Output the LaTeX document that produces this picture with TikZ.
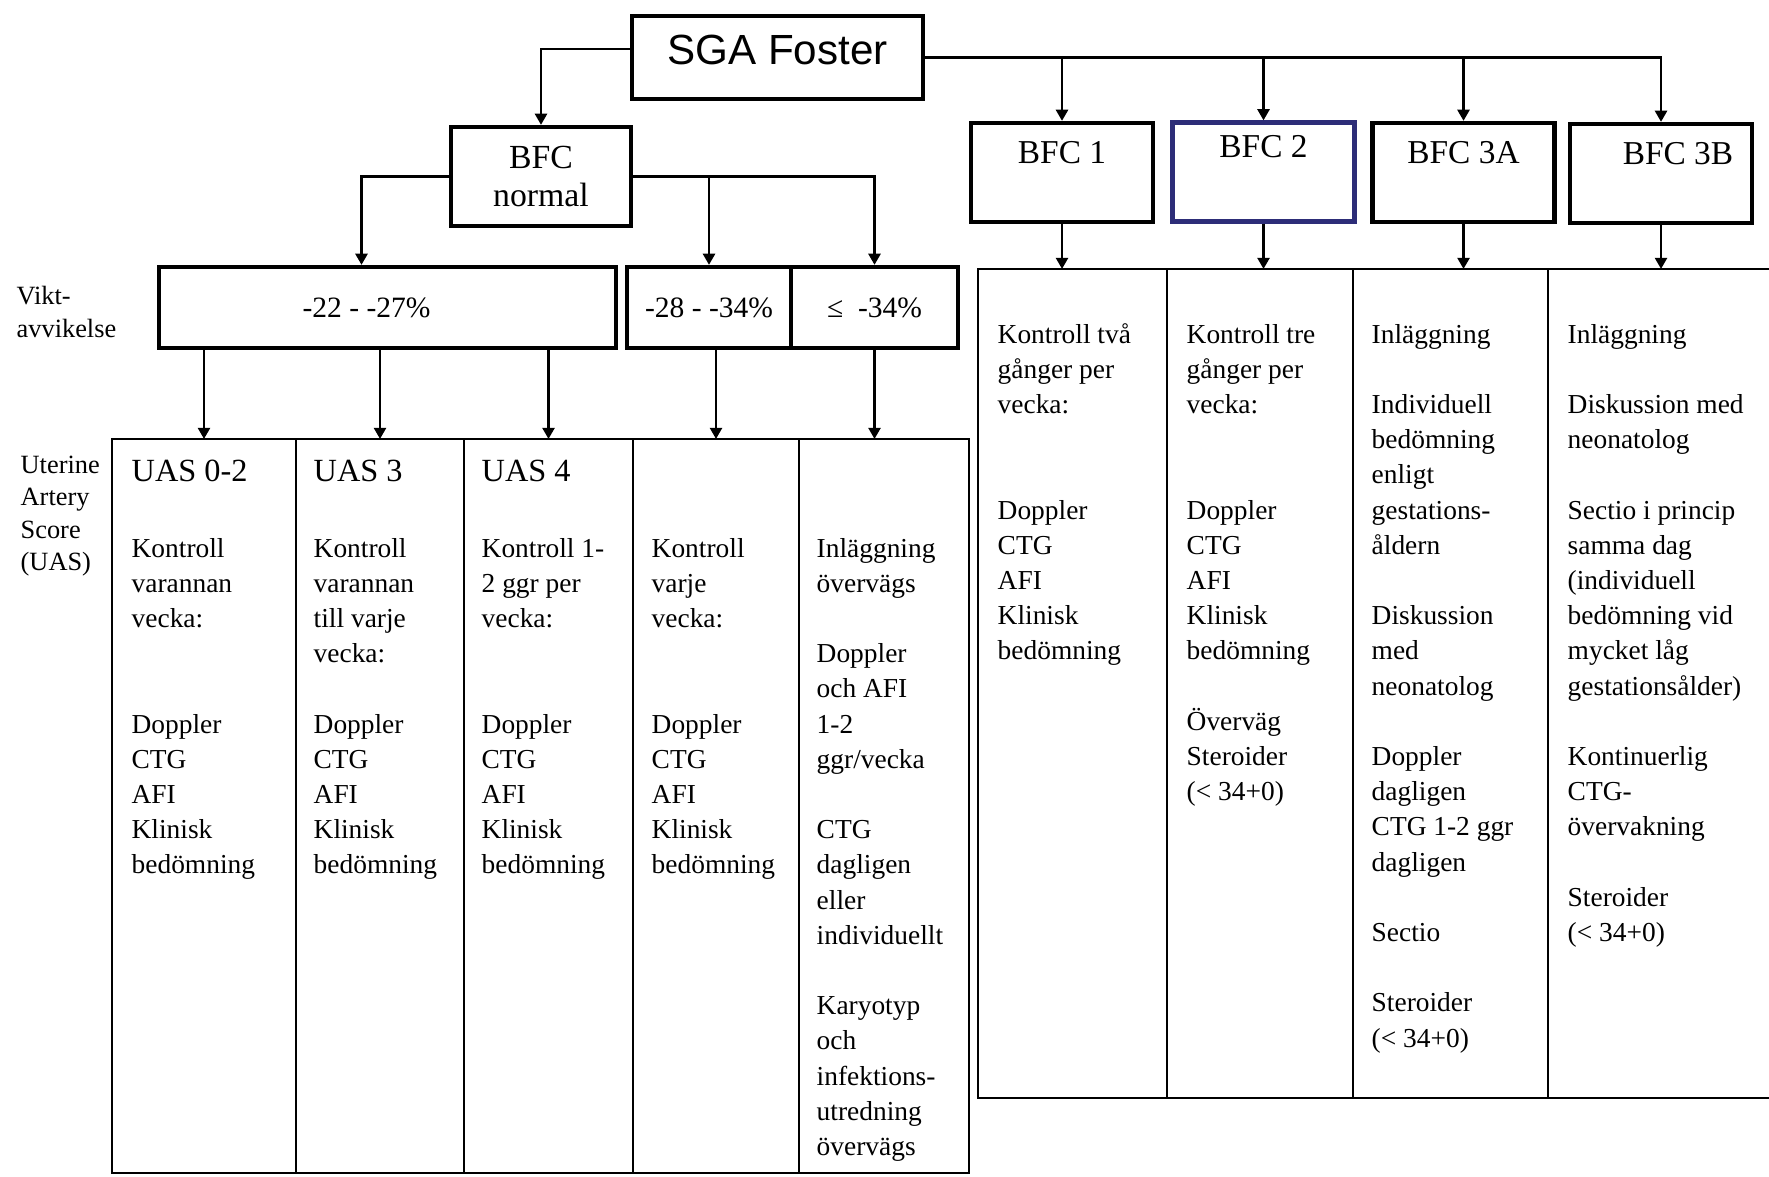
\documentclass[tikz,border=0pt]{standalone}
\usepackage{fontspec}
\setmainfont{Liberation Serif}
\setsansfont{Liberation Sans}
\usepackage{tikz}
\usetikzlibrary{arrows.meta,positioning}
\definecolor{bfcblue}{RGB}{45,45,120}

% one text line per entry, baselines 35.2 units apart
\newcommand{\celllines}[4]{%
  \foreach \cline [count=\k from 0] in {#4}
    \node[body, anchor=base west] (#1-\k) at (#2, {#3+35.2*\k}) {\cline};
}

\begin{document}
\begin{tikzpicture}[x=0.1mm, y=-0.1mm,
    box/.style={draw, line width=1.2pt, inner sep=0pt},
    bfcbox/.style={box, minimum width=18.2mm, text height=4mm, text depth=5.9mm, font=\fontsize{9.5}{11}\selectfont},
    wbox/.style={box, minimum height=8.1mm, font=\fontsize{8.4}{10}\selectfont},
    cell/.style={draw, line width=0.6pt, inner sep=0pt, outer sep=0pt, minimum height=73.4mm},
    head/.style={font=\fontsize{9.2}{11}\selectfont, anchor=base west, inner sep=0pt},
    body/.style={font=\fontsize{7.8}{9}\selectfont, inner sep=0pt},
    side/.style={font=\fontsize{7.5}{9.2}\selectfont, align=left, anchor=west, inner sep=0pt},
    arr/.style={-{Triangle[length=3.2pt,width=3.4pt]}, line width=0.8pt}]
    \useasboundingbox (0,0) rectangle (1769,1176);

    % top
    \node[box, minimum width=29.1mm, text height=4.8mm, text depth=3.5mm, font=\sffamily\fontsize{12}{14}\selectfont] (sga) at (777.5,57.5) {SGA Foster};
    \node[box, align=center, minimum width=18mm, minimum height=9.9mm, font=\fontsize{9.6}{11}\selectfont] (bfcn) at (541,176.5) {BFC\\normal};
    \node[bfcbox] (bfc1) at (1062,172.5) {BFC 1};
    \node[bfcbox, draw=bfcblue, text height=3.5mm, text depth=6.4mm] (bfc2) at (1263.5,172) {BFC 2};
    \node[bfcbox] (bfc3a) at (1463.5,172.5) {BFC 3A};
    \node[bfcbox] (bfc3b) at (1661,173.5) {\hspace*{3.4mm}BFC 3B};

    % viktavvikelse
    \node[wbox, minimum width=45.7mm] (w1) at (387.5,307.5) {-22 - -27\%\hspace*{4.2mm}};
    \node[wbox, minimum width=16.4mm] (w2a) at (709,307.5) {-28 - -34\%};
    \node[wbox, minimum width=16.7mm] (w2b) at (874.5,307.5) {≤\enspace-34\%};

    \node[side] (vikt) at (16,312) {Vikt-\\avvikelse};
    \node[side] (uas) at (20,516) {Uterine\\Artery\\Score\\(UAS)};

    % tables
    \foreach \n/\cx/\w in {u1/204/18.4, u2/380/16.8, u3/548.5/16.9, u4/716/16.6, u5/884/17}
        \node[cell, minimum width=\w mm] (\n) at (\cx,806) {};
    \foreach \n/\cx/\w in {r1/1072.5/18.9, r2/1260/18.6, r3/1450.5/19.5}
        \node[cell, minimum height=82.9mm, minimum width=\w mm] (\n) at (\cx,683.5) {};
    \node[inner sep=0pt, outer sep=0pt, minimum height=82.9mm, minimum width=22.1mm] (r4) at (1658.5,683.5) {};
    \draw[line width=0.6pt] (r4.north west) -- (r4.north east) (r4.south west) -- (r4.south east);

    \node[head] (h1) at (131,481) {UAS 0-2};
    \node[head] (h2) at (313,481) {UAS 3};
    \node[head] (h3) at (481,481) {UAS 4};

    \celllines{t1}{131}{557}{Kontroll, varannan, vecka:, , , Doppler, CTG, AFI, Klinisk, bedömning}
    \celllines{t2}{313}{557}{Kontroll, varannan, till varje, vecka:, , Doppler, CTG, AFI, Klinisk, bedömning}
    \celllines{t3}{481}{557}{Kontroll 1-, 2 ggr per, vecka:, , , Doppler, CTG, AFI, Klinisk, bedömning}
    \celllines{t4}{651}{557}{Kontroll, varje, vecka:, , , Doppler, CTG, AFI, Klinisk, bedömning}
    \celllines{t5}{816}{557}{Inläggning, övervägs, , Doppler, och AFI, 1-2, ggr/vecka, , CTG, dagligen, eller, individuellt, , Karyotyp, och, infektions-, utredning, övervägs}

    \celllines{s1}{997}{343}{Kontroll två, gånger per, vecka:, , , Doppler, CTG, AFI, Klinisk, bedömning}
    \celllines{s2}{1186}{343}{Kontroll tre, gånger per, vecka:, , , Doppler, CTG, AFI, Klinisk, bedömning, , Överväg, Steroider, {(< 34+0)}}
    \celllines{s3}{1371}{343}{Inläggning, , Individuell, bedömning, enligt, gestations-, åldern, , Diskussion, med, neonatolog, , Doppler, dagligen, CTG 1-2 ggr, dagligen, , Sectio, , Steroider, {(< 34+0)}}
    \celllines{s4}{1567}{343}{Inläggning, , Diskussion med, neonatolog, , Sectio i princip, samma dag, {(individuell}, bedömning vid, mycket låg, {gestationsålder)}, , Kontinuerlig, CTG-, övervakning, , Steroider, {(< 34+0)}}

    % connectors
    \draw[arr] ([yshift=0.85mm]sga.west) -| (bfcn.north);
    \draw[arr] (sga.east) -| (bfc3b.north);
    \foreach \b in {bfc1,bfc2,bfc3a}
        \draw[arr] (\b.north |- sga.east) -- (\b.north);
    \foreach \b/\r in {bfc1/r1, bfc2/r2, bfc3a/r3, bfc3b/r4}
        \draw[arr] (\b.south) -- (\b.south |- \r.north);

    \draw[arr] (bfcn.west) -| ([xshift=-2.6mm]w1.north);
    \draw[arr] (bfcn.east) -| (w2b.north);
    \draw[arr] (w2a.north |- bfcn.east) -- (w2a.north);

    \foreach \u in {u1,u2,u3}
        \draw[arr] (\u.north |- w1.south) -- (\u.north);
    \draw[arr] (u4.north |- w2a.south) -- (u4.north);
    \draw[arr] (w2b.south) -- (w2b.south |- u5.north);
\end{tikzpicture}
\end{document}
